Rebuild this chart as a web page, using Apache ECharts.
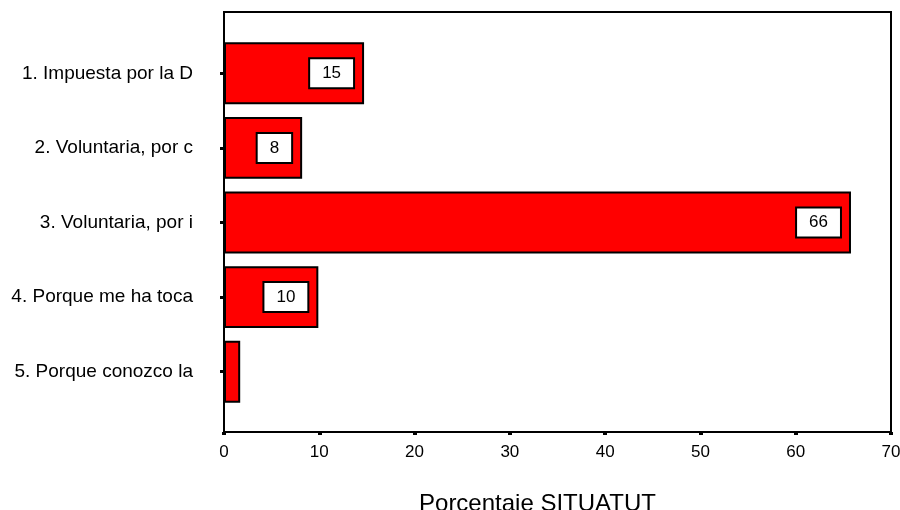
<!DOCTYPE html>
<html>
<head>
<meta charset="utf-8">
<script src="https://cdn.jsdelivr.net/npm/echarts@6/dist/echarts.min.js"></script>
<style>html,body{margin:0;padding:0;background:#fff}#c{width:900px;height:510px}</style>
</head>
<body>
<div id="c"></div>
<script>
const categories = ["1. Impuesta por la D", "2. Voluntaria, por c", "3. Voluntaria, por i", "4. Porque me ha toca", "5. Porque conozco la"];
const values = [14.7, 8.2, 65.8, 9.9, 1.7];
const valueLabels = ["15", "8", "66", "10", ""];
const xTicks = [0, 10, 20, 30, 40, 50, 60, 70];
const xTitle = "Porcentaje SITUATUT";

const chart = echarts.init(document.getElementById('c'), null, {renderer: 'canvas'});
const font = 'Liberation Sans, Arial, sans-serif';
chart.setOption({
  animation: false,
  backgroundColor: '#fff',
  grid: {left: 224, right: 9, top: 36, bottom: 101, containLabel: false, outerBoundsMode: 'none'},
  graphic: [{
    type: 'rect', z: 1,
    shape: {x: 224, y: 12, width: 667, height: 420},
    style: {fill: 'none', stroke: '#000', lineWidth: 2}
  }],
  xAxis: {
    type: 'value', min: xTicks[0], max: xTicks[xTicks.length - 1], interval: 10,
    offset: 23,
    splitLine: {show: false},
    axisLine: {show: false},
    axisTick: {show: true, length: 3, lineStyle: {color: '#000', width: 4}},
    axisLabel: {color: '#000', fontFamily: font, fontSize: 17, margin: 12},
    name: xTitle, nameLocation: 'middle', nameGap: 60,
    nameTextStyle: {color: '#000', fontFamily: font, fontSize: 24, padding: [0, 40, 0, 0]}
  },
  yAxis: {
    type: 'category', data: categories, inverse: true,
    axisLine: {show: false},
    axisTick: {show: true, alignWithLabel: true, length: 4, lineStyle: {color: '#000', width: 3}},
    axisLabel: {color: '#000', fontFamily: font, fontSize: 19, margin: 31}
  },
  series: [{
    type: 'bar', barCategoryGap: '17%', z: 3,
    data: values.map((v, i) => valueLabels[i] ? v : {value: v, label: {show: false}}),
    itemStyle: {color: '#ff0000', borderColor: '#000', borderWidth: 2},
    label: {
      show: true, position: 'insideRight', distance: 11,
      formatter: p => valueLabels[p.dataIndex],
      color: '#000', fontFamily: font, fontSize: 17,
      backgroundColor: '#fff', borderColor: '#000', borderWidth: 2,
      padding: [6, 12, 5, 12]
    }
  }]
});
</script>
</body>
</html>
